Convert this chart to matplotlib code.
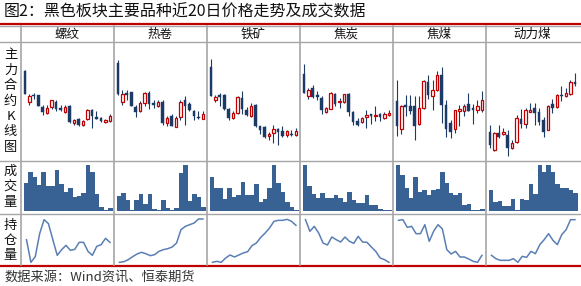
import matplotlib
matplotlib.use("Agg")
from matplotlib import pyplot as plt
import numpy as np

plt.rcParams['font.family'] = ['Noto Sans CJK SC', 'DejaVu Sans']

W, H = 581, 286

names = ['螺纹', '热卷', '铁矿', '焦炭', '焦煤', '动力煤']

# 螺纹
rb_o = [275, 183, 205, 203, 168, 151, 167, 184, 165, 154, 171, 121, 132, 113, 131, 159, 138, 134, 122, 125]
rb_h = [278, 208, 210, 205, 175, 175, 190, 190, 173, 173, 173, 132, 135, 130, 162, 162, 155, 138, 132, 147]
rb_l = [207, 175, 193, 170, 143, 148, 162, 157, 155, 150, 120, 114, 110, 110, 128, 104, 131, 122, 120, 123]
rb_c = [208, 202, 200, 172, 153, 165, 188, 162, 160, 168, 123, 128, 113, 125, 158, 140, 133, 126, 128, 140]
rb_vol = [83, 116, 101, 77, 116, 74, 74, 122, 80, 56, 68, 41, 44, 53, 137, 116, 50, 11, 2, 8]
rb_oi = [80, 12, 29, 98, 140, 128, 80, 33, 50, 63, 48, 51, 72, 72, 45, 33, 60, 65, 84, 72]

# 热卷
hc_o = [300, 182, 210, 212, 168, 157, 179, 210, 179, 170, 184, 120, 140, 109, 138, 188, 177, 157, 138, 133]
hc_h = [310, 220, 220, 214, 175, 185, 212, 215, 188, 188, 188, 142, 148, 140, 188, 200, 182, 160, 156, 157]
hc_l = [205, 174, 190, 170, 137, 152, 172, 162, 165, 167, 114, 110, 110, 107, 128, 115, 155, 130, 132, 132]
hc_c = [208, 207, 205, 172, 153, 179, 209, 178, 174, 182, 120, 134, 112, 135, 184, 170, 158, 141, 134, 146]
hc_vol = [44, 53, 32, 2, 32, 50, 20, 50, 5, 2, 32, 8, 2, 8, 113, 137, 29, 50, 41, 11]
hc_oi = [12, 14, 20, 29, 37, 42, 38, 32, 35, 45, 50, 53, 58, 70, 110, 120, 125, 130, 142, 142]

# 铁矿
i_o = [288, 190, 204, 204, 162, 136, 151, 195, 159, 140, 174, 110, 108, 80, 89, 102, 96, 83, 88, 83]
i_h = [312, 203, 210, 207, 165, 155, 202, 217, 168, 180, 176, 112, 110, 92, 114, 105, 110, 98, 100, 104]
i_l = [200, 182, 172, 160, 128, 132, 148, 147, 140, 137, 108, 87, 76, 68, 60, 54, 78, 78, 80, 80]
i_c = [202, 197, 197, 163, 136, 150, 198, 161, 143, 172, 110, 100, 78, 86, 102, 94, 82, 95, 83, 96]
i_vol = [101, 68, 68, 35, 68, 41, 47, 86, 47, 47, 80, 26, 35, 68, 137, 83, 56, 26, 11, 2]
i_oi = [12, 15, 12, 25, 34, 28, 34, 40, 44, 62, 70, 87, 100, 115, 135, 138, 138, 141, 135, 123]

# 焦炭
j_o = [266, 202, 225, 204, 195, 154, 163, 207, 182, 184, 208, 153, 126, 122, 139, 146, 140, 146, 136, 144]
j_h = [296, 225, 233, 215, 202, 169, 212, 210, 194, 208, 210, 155, 134, 138, 160, 148, 172, 149, 152, 159]
j_l = [209, 192, 194, 190, 146, 149, 161, 172, 166, 180, 140, 115, 110, 120, 106, 117, 126, 127, 133, 140]
j_c = [211, 218, 198, 197, 160, 164, 210, 177, 186, 206, 153, 123, 114, 136, 144, 140, 144, 139, 147, 150]
j_vol = [137, 74, 50, 38, 53, 38, 38, 47, 38, 26, 56, 32, 23, 23, 47, 17, 17, 5, 2, 2]
j_oi = [140, 105, 120, 100, 70, 64, 88, 80, 73, 88, 75, 69, 90, 73, 72, 58, 45, 25, 20, 12]

# 焦煤
jm_o = [185, 103, 174, 170, 170, 118, 164, 242, 202, 218, 263, 175, 120, 102, 157, 157, 176, 166, 160, 160]
jm_h = [248, 174, 203, 203, 200, 202, 248, 265, 248, 275, 287, 190, 130, 160, 174, 178, 210, 177, 190, 215]
jm_l = [80, 88, 140, 146, 68, 114, 162, 193, 160, 216, 120, 78, 74, 90, 112, 140, 155, 117, 150, 154]
jm_c = [112, 170, 169, 156, 112, 164, 245, 205, 218, 263, 175, 103, 92, 158, 162, 170, 156, 160, 170, 190]
jm_vol = [137, 107, 68, 38, 101, 56, 62, 47, 62, 65, 116, 83, 53, 47, 53, 17, 20, 2, 2, 5]
jm_oi = [138, 140, 117, 120, 98, 98, 125, 75, 105, 125, 112, 50, 37, 45, 28, 28, 22, 15, 12, 33]

# 动力煤
zc_o = [93, 38, 90, 86, 83, 44, 62, 132, 118, 154, 164, 152, 128, 100, 177, 168, 205, 200, 208, 243]
zc_h = [115, 92, 115, 105, 98, 70, 144, 162, 164, 180, 180, 165, 138, 174, 192, 208, 232, 225, 250, 270]
zc_l = [44, 37, 75, 83, 22, 42, 59, 105, 105, 152, 114, 114, 78, 98, 149, 165, 185, 197, 205, 230]
zc_c = [55, 90, 78, 93, 45, 60, 134, 118, 159, 158, 149, 122, 94, 170, 164, 203, 200, 209, 242, 238]
zc_vol = [62, 26, 29, 14, 14, 35, 2, 35, 32, 80, 50, 137, 116, 137, 116, 80, 68, 68, 62, 53]
zc_oi = [33, 23, 18, 18, 18, 23, 12, 30, 27, 45, 38, 65, 80, 98, 78, 65, 95, 110, 140, 140]

products = [
    (rb_o, rb_h, rb_l, rb_c, rb_vol, rb_oi),
    (hc_o, hc_h, hc_l, hc_c, hc_vol, hc_oi),
    (i_o, i_h, i_l, i_c, i_vol, i_oi),
    (j_o, j_h, j_l, j_c, j_vol, j_oi),
    (jm_o, jm_h, jm_l, jm_c, jm_vol, jm_oi),
    (zc_o, zc_h, zc_l, zc_c, zc_vol, zc_oi),
]

navy = '#1b3a66'
red = '#c00000'
bar_blue = '#386194'
line_blue = '#5a7fb5'
grid = '#a6a6a6'


def box(x0, y0, w, h):
    # pixel box (top-left origin) -> figure fraction
    return [x0 / W, 1 - (y0 + h) / H, w / W, h / H]


fig = plt.figure(figsize=(W / 100, H / 100), dpi=100)

bg = fig.add_axes([0, 0, 1, 1])
bg.set_xlim(0, W)
bg.set_ylim(H, 0)
bg.axis('off')

bg.text(4, 12, '图2：黑色板块主要品种近20日价格走势及成交数据', fontsize=11.5,
        va='center', ha='left', color='#111111')
bg.plot([0, W], [23.5, 23.5], color=red, lw=1.6)
bg.plot([0, W], [266, 266], color=red, lw=1.6)

for yy in [26, 42, 160.5, 214]:
    bg.plot([0, W], [yy, yy], color=grid, lw=1.0)

col_x = [20.5, 113.5, 206.5, 299.5, 392.5, 485.5]
for xx in col_x:
    bg.plot([xx, xx], [26, 265], color=grid, lw=1.2)

for k, nm in enumerate(names):
    bg.text(col_x[k] + 46.5, 34, nm, fontsize=9, ha='center', va='center', color='#111111')

for txt, y0 in [('主力合约K线图', 54.5), ('成交量', 171.5), ('持仓量', 225)]:
    for n, ch in enumerate(txt):
        bg.text(10.5, y0 + n * 15.5, ch, fontsize=9.5, ha='center', va='center', color='#111111')

bg.text(4, 277, '数据来源：Wind资讯、恒泰期货', fontsize=9.5, ha='left', va='center',
        color='#333333')

for k, (o, h, l, c, vol, oi) in enumerate(products):
    x0 = col_x[k] + 0.5
    o, h, l, c = map(np.array, (o, h, l, c))
    pos = np.arange(len(o))

    # K-line
    ax = fig.add_axes(box(x0, 43, 92, 116.5))
    ax.set_xlim(-0.85, 19.7)
    ax.set_ylim(10.5, 360)
    ax.vlines(pos, l, h, color=navy, lw=0.8, zorder=1)
    up = c >= o
    bottom = np.minimum(o, c)
    height = np.maximum(np.abs(c - o), 1.2)
    ax.bar(pos[~up], height[~up], 0.58, bottom=bottom[~up], color=navy,
           edgecolor=navy, lw=0.3, zorder=2)
    ax.bar(pos[up], height[up], 0.58, bottom=bottom[up], color='white',
           edgecolor=red, lw=0.9, zorder=2)
    ax.axis('off')

    # volume
    ax2 = fig.add_axes(box(x0, 161, 92, 52.5))
    ax2.set_xlim(-1.1, 19.6)
    ax2.set_ylim(-8.5, 149)
    ax2.bar(pos, vol, 1.0, color=bar_blue, linewidth=0)
    ax2.axis('off')

    # open interest
    ax3 = fig.add_axes(box(x0, 215, 92, 50))
    ax3.set_xlim(-1.25, 19.7)
    ax3.set_ylim(4, 154)
    ax3.plot(pos, oi, color=line_blue, lw=1.1)
    ax3.axis('off')

fig.savefig('out.png', dpi=100)
